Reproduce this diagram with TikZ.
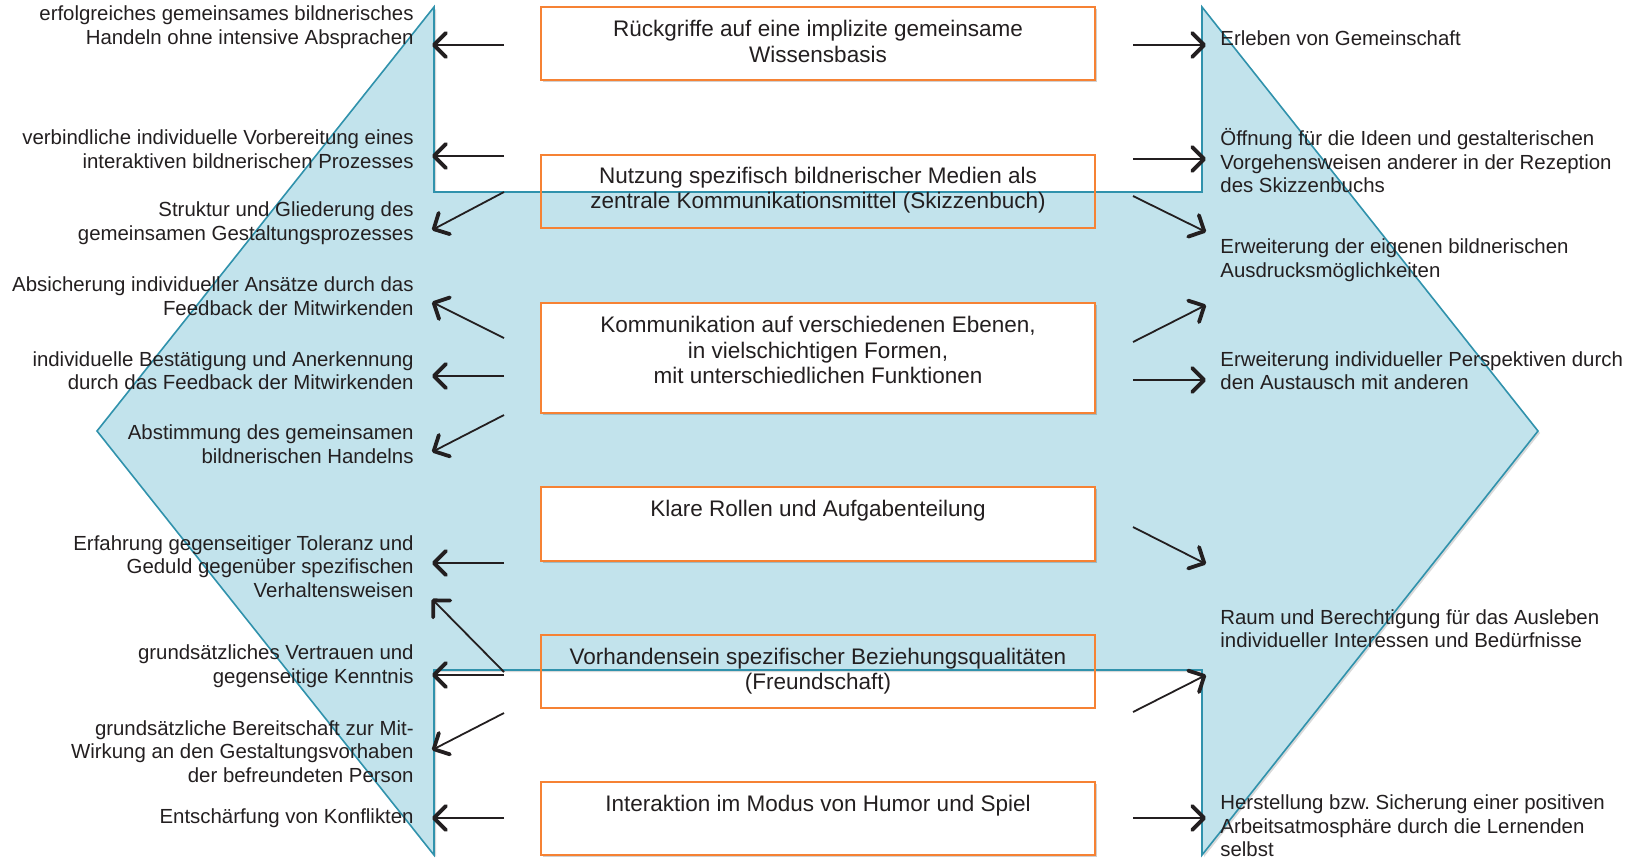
\documentclass[tikz,border=0pt]{standalone}
\usepackage{fontspec}
\setmainfont{Liberation Sans}
\usetikzlibrary{arrows.meta,shadows}
\definecolor{arrowfill}{RGB}{194,227,236}
\definecolor{arrowline}{RGB}{48,146,172}
\definecolor{boxline}{RGB}{246,130,52}
\definecolor{ink}{RGB}{35,31,32}

\begin{document}
\begin{tikzpicture}[x=0.5pt,y=-0.5pt,
  sidetext/.style={font=\fontsize{10.2}{11.75}\selectfont, text=ink, inner sep=0pt},
  lefttext/.style={sidetext, align=right, anchor=east},
  righttext/.style={sidetext, align=left, anchor=west},
  factorbox/.style={draw=boxline, line width=1pt, minimum width=277pt, inner sep=0pt},
  solidbox/.style={factorbox, fill=white,
    drop shadow={opacity=0.18, shadow xshift=1pt, shadow yshift=-1pt, fill=black}},
  boxtext/.style={font=\fontsize{11.25}{12.6}\selectfont, text=ink, align=center, inner sep=0pt},
  link/.style={draw=ink, line width=0.9pt,
    -{Straight Barb[length=6pt,width=12pt,line width=1.9pt,round]}},
]
\useasboundingbox (0,0) rectangle (1637,859);

% double-headed block arrow behind everything
\draw[fill=arrowfill, draw=arrowline, line width=0.8pt, line join=miter,
      drop shadow={opacity=0.15, shadow xshift=1pt, shadow yshift=-1pt, fill=black}]
  (97,431) -- (434,7) -- (434,192) -- (1202,192) -- (1202,7) -- (1538,431)
  -- (1202,855) -- (1202,670) -- (434,670) -- (434,855) -- cycle;

% central factor boxes
\node[solidbox,  minimum height=36.5pt] (b1) at (818,43.9) {};
\node[factorbox, minimum height=36.5pt] (b2) at (818,191) {};
\node[solidbox,  minimum height=55pt]   (b3) at (818,357.6) {};
\node[solidbox,  minimum height=37pt]   (b4) at (818,523.5) {};
\node[factorbox, minimum height=36.5pt] (b5) at (818,671) {};
\node[solidbox,  minimum height=36.5pt] (b6) at (818,818.5) {};

\node[boxtext] (bt1) at (818,41.5) {Rückgriffe auf eine implizite gemeinsame\\Wissensbasis};
\node[boxtext] (bt2) at (818,190) {Nutzung spezifisch bildnerischer Medien als\\zentrale Kommunikationsmittel (Skizzenbuch)};
\node[boxtext] (bt3) at (818,350) {Kommunikation auf verschiedenen Ebenen,\\in vielschichtigen Formen,\\mit unterschiedlichen Funktionen};
\node[boxtext] (bt4) at (818,511) {Klare Rollen und Aufgabenteilung};
\node[boxtext] (bt5) at (818,671) {Vorhandensein spezifischer Beziehungsqualitäten\\(Freundschaft)};
\node[boxtext] (bt6) at (818,806) {Interaktion im Modus von Humor und Spiel};

% left-hand outcomes
\node[lefttext] (l1)  at (414,27)    {erfolgreiches gemeinsames bildnerisches\\Handeln ohne intensive Absprachen};
\node[lefttext] (l2)  at (414,149)   {verbindliche individuelle Vorbereitung eines\\interaktiven bildnerischen Prozesses};
\node[lefttext] (l3)  at (414,223)   {Struktur und Gliederung des\\gemeinsamen Gestaltungsprozesses};
\node[lefttext] (l4)  at (414,296)   {Absicherung individueller Ansätze durch das\\Feedback der Mitwirkenden};
\node[lefttext] (l5)  at (414,370.5) {individuelle Bestätigung und Anerkennung\\durch das Feedback der Mitwirkenden};
\node[lefttext] (l6)  at (414,444)   {Abstimmung des gemeinsamen\\bildnerischen Handelns};
\node[lefttext] (l7)  at (414,566.5) {Erfahrung gegenseitiger Toleranz und\\Geduld gegenüber spezifischen\\Verhaltensweisen};
\node[lefttext] (l8)  at (414,666)   {grundsätzliches Vertrauen und\\gegenseitige Kenntnis};
\node[lefttext] (l9)  at (414,751.5) {grundsätzliche Bereitschaft zur Mit-\\Wirkung an den Gestaltungsvorhaben\\der befreundeten Person};
\node[lefttext] (l10) at (414,818.5) {Entschärfung von Konflikten};

% right-hand outcomes
\node[righttext] (r1) at (1220,38.5) {Erleben von Gemeinschaft};
\node[righttext] (r2) at (1220,161)  {Öffnung für die Ideen und gestalterischen\\Vorgehensweisen anderer in der Rezeption\\des Skizzenbuchs};
\node[righttext] (r3) at (1220,260)  {Erweiterung der eigenen bildnerischen\\Ausdrucksmöglichkeiten};
\node[righttext] (r4) at (1220,370.5){Erweiterung individueller Perspektiven durch\\den Austausch mit anderen};
\node[righttext] (r5) at (1220,628.5){Raum und Berechtigung für das Ausleben\\individueller Interessen und Bedürfnisse};
\node[righttext] (r6) at (1220,826)  {Herstellung bzw.\ Sicherung einer positiven\\Arbeitsatmosphäre durch die Lernenden\\selbst};

% connector end points, left side
\coordinate (ls1) at (504,45);   \coordinate (le1) at (432,45);
\coordinate (ls2) at (504,156);  \coordinate (le2) at (432,156);
\coordinate (ls3) at (504,192);  \coordinate (le3) at (432,230);
\coordinate (ls4) at (504,338);  \coordinate (le4) at (432,302);
\coordinate (ls5) at (504,376);  \coordinate (le5) at (432,376);
\coordinate (ls6) at (504,415);  \coordinate (le6) at (432,452);
\coordinate (ls7) at (504,563);  \coordinate (le7) at (432,563);
\coordinate (ls8) at (504,672);  \coordinate (le8) at (432,599);
\coordinate (ls9) at (504,675);  \coordinate (le9) at (432,675);
\coordinate (ls10) at (504,713); \coordinate (le10) at (432,750);
\coordinate (ls11) at (504,818); \coordinate (le11) at (432,818);

% connector end points, right side
\coordinate (rs1) at (1133,45);  \coordinate (re1) at (1206,45);
\coordinate (rs2) at (1133,159); \coordinate (re2) at (1206,159);
\coordinate (rs3) at (1133,196); \coordinate (re3) at (1206,232);
\coordinate (rs4) at (1133,342); \coordinate (re4) at (1206,305);
\coordinate (rs5) at (1133,380); \coordinate (re5) at (1206,380);
\coordinate (rs6) at (1133,527); \coordinate (re6) at (1206,564);
\coordinate (rs7) at (1133,712); \coordinate (re7) at (1206,675);
\coordinate (rs8) at (1133,818); \coordinate (re8) at (1206,818);

\foreach \i in {1,...,11} { \draw[link] (ls\i) -- (le\i); }
\foreach \i in {1,...,8}  { \draw[link] (rs\i) -- (re\i); }

\end{tikzpicture}
\end{document}
